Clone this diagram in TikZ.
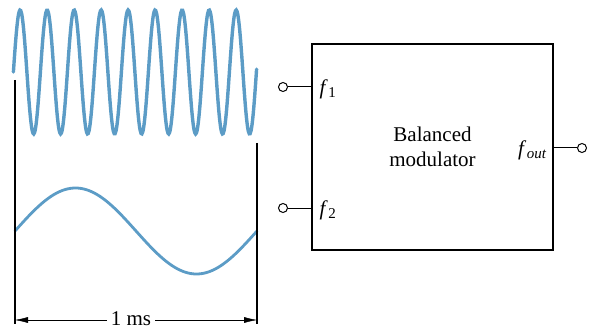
\documentclass[tikz,border=0pt]{standalone}
\usepackage{fontspec}
\setmainfont{Liberation Serif}
\usepackage{xcolor}
\usetikzlibrary{positioning, calc, arrows.meta}

\definecolor{wavecol}{RGB}{92,156,198}
\newcommand{\freq}[1]{\textit{f}\kern0.5pt\raisebox{-0.35ex}{\fontsize{15}{15}\selectfont #1}}

\tikzset{
    wire/.style={line width=1pt},
    term/.style={circle, draw, line width=1pt, fill=white, inner sep=0pt, minimum size=9pt},
    sigwave/.style={wavecol, line width=3.4pt, line cap=round},
    marker/.style={line width=1.2pt},
}

\begin{document}
\begin{tikzpicture}[x=1pt, y=-1pt, font=\fontsize{21}{25}\selectfont]
    \useasboundingbox (0,0) rectangle (598,329);

    % waveforms
    \draw[sigwave] plot[domain=13.4:256.6, samples=300, smooth] (\x, {72-62*sin((\x-13.4)/27*360)});
    \draw[sigwave, line width=2.8pt] plot[domain=15:257, samples=120, smooth] (\x, {231-43*sin((\x-15)/242*360)});

    % time span
    \coordinate (tl) at (15,80);
    \coordinate (bl) at (15,324);
    \coordinate (tr) at (257,143);
    \coordinate (br) at (257,324);
    \coordinate (la) at (15,320);
    \coordinate (ra) at (257,320);
    \draw[marker] (tl) -- (bl) (tr) -- (br);
    \node[inner sep=0pt, anchor=base] (span) at (131,325) {1 ms};
    \draw[-{Latex[length=13pt,width=6pt]}] ([xshift=-4pt]span.west |- la) -- (la);
    \draw[-{Latex[length=13pt,width=6pt]}] ([xshift=4pt]span.east |- ra) -- (ra);

    % modulator block
    \node[draw, line width=1.6pt, minimum width=241pt, minimum height=206pt, align=center] (mod) at (432.5,147) {Balanced\\modulator};
    \node[term] (in1) at (283,87) {};
    \node[term] (in2) at (283,208) {};
    \node[term] (out) at (582,148) {};
    \draw[wire] (in1) -- (mod.west |- in1);
    \draw[wire] (in2) -- (mod.west |- in2);
    \draw[wire] (out) -- (mod.east |- out);
    \node[anchor=west] (f1) at ($(mod.west |- in1)+(5,2)$) {\freq{1}};
    \node[anchor=west] (f2) at ($(mod.west |- in2)+(5,2)$) {\freq{2}};
    \node[anchor=east] (fo) at ($(mod.east |- out)+(-4,2)$) {\freq{\textit{out}}};
\end{tikzpicture}
\end{document}
